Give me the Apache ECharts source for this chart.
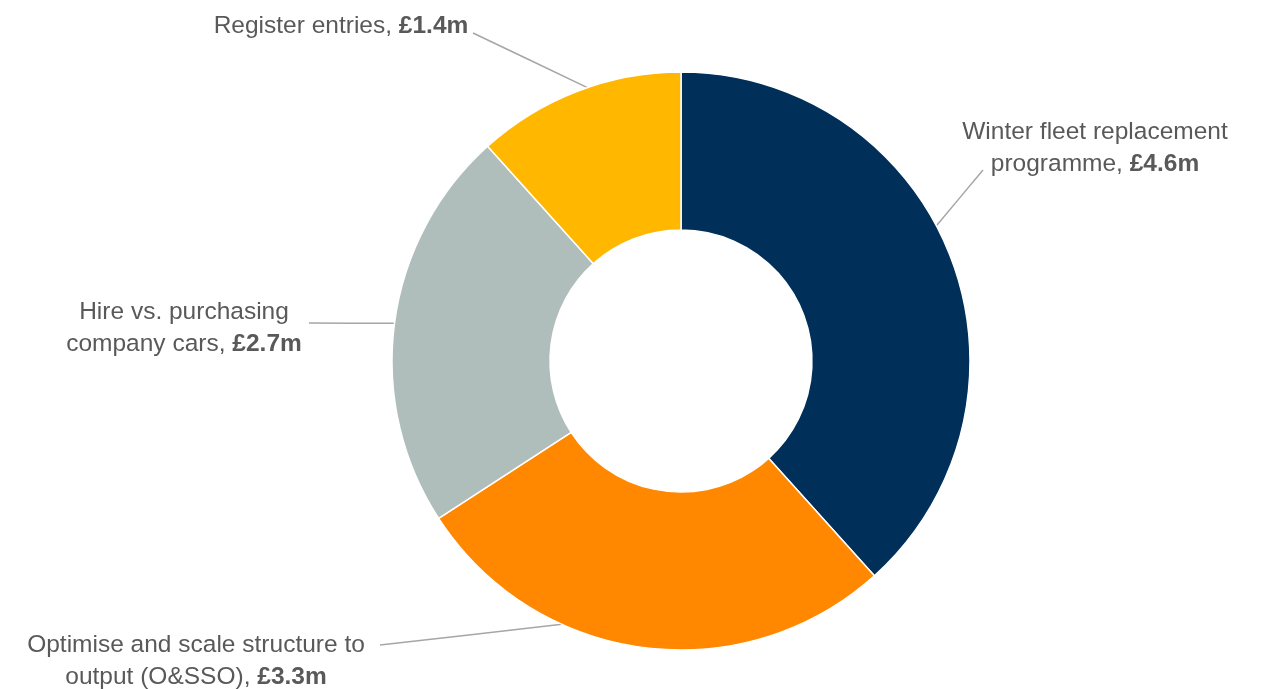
<!DOCTYPE html>
<html>
<head>
<meta charset="utf-8">
<script src="https://cdn.jsdelivr.net/npm/echarts@6/dist/echarts.min.js"></script>
<style>
  html, body { margin: 0; padding: 0; background: #ffffff; }
  #chart { width: 1264px; height: 689px; }
</style>
</head>
<body>
<div id="chart"></div>
<script>
// Savings by initiative (£m)
const categories = [
  'Winter fleet replacement\nprogramme',
  'Optimise and scale structure to\noutput (O&SSO)',
  'Hire vs. purchasing\ncompany cars',
  'Register entries'
];
const savings = [4.6, 3.3, 2.7, 1.4];

// Styling
const colours = ['#002F5A', '#FF8800', '#AFBDBB', '#FFB700'];
const labelCentres = [[1095, 148], [196, 661], [184, 328], [341, 26]];
const leaderEndOffsets = [[-112, 22], [184, -16], [125, -5], [132, 7]];
const leaderAnchorShare = [0.45, 0.67, 0.5, 0.55];

const CX = 681, CY = 361, R_IN = 131, R_OUT = 289;
const TEXT = '#595959';

const total = savings.reduce((a, b) => a + b, 0);
const startShare = savings.map((v, i) => savings.slice(0, i).reduce((a, b) => a + b, 0) / total);

const chart = echarts.init(document.getElementById('chart'));

chart.setOption({
  backgroundColor: '#ffffff',
  animation: false,
  series: [{
    type: 'pie',
    center: [CX, CY],
    radius: [R_IN, R_OUT],
    startAngle: 90,
    clockwise: true,
    avoidLabelOverlap: false,
    silent: true,
    itemStyle: { borderColor: '#ffffff', borderWidth: 1.5 },
    emphasis: { disabled: true },
    data: categories.map((name, i) => ({
      name: name,
      value: savings[i],
      itemStyle: { color: colours[i] }
    })),
    label: {
      show: true,
      position: 'outside',
      formatter: p => {
        const lines = p.name.split('\n');
        const last = lines.pop();
        return lines.map(l => '{t|' + l + '}')
          .concat(['{t|' + last + ', }{v|£' + p.value.toFixed(1) + 'm}'])
          .join('\n');
      },
      rich: {
        t: { fontFamily: 'Liberation Sans', fontSize: 24.5, color: TEXT, lineHeight: 32 },
        v: { fontFamily: 'Liberation Sans', fontSize: 24.5, fontWeight: 'bold', color: TEXT, lineHeight: 32 }
      }
    },
    labelLine: {
      show: true,
      smooth: false,
      lineStyle: { color: '#A6A6A6', width: 1.5 }
    },
    labelLayout: params => {
      const i = params.dataIndex;
      const share = startShare[i] + leaderAnchorShare[i] * savings[i] / total;
      const ang = share * Math.PI * 2;
      const ax = CX + R_OUT * Math.sin(ang);
      const ay = CY - R_OUT * Math.cos(ang);
      const [lx, ly] = labelCentres[i];
      const ex = lx + leaderEndOffsets[i][0];
      const ey = ly + leaderEndOffsets[i][1];
      return {
        x: lx,
        y: ly,
        align: 'center',
        verticalAlign: 'middle',
        labelLinePoints: [[ax, ay], [(ax + ex) / 2, (ay + ey) / 2], [ex, ey]]
      };
    }
  }]
});
</script>
</body>
</html>
